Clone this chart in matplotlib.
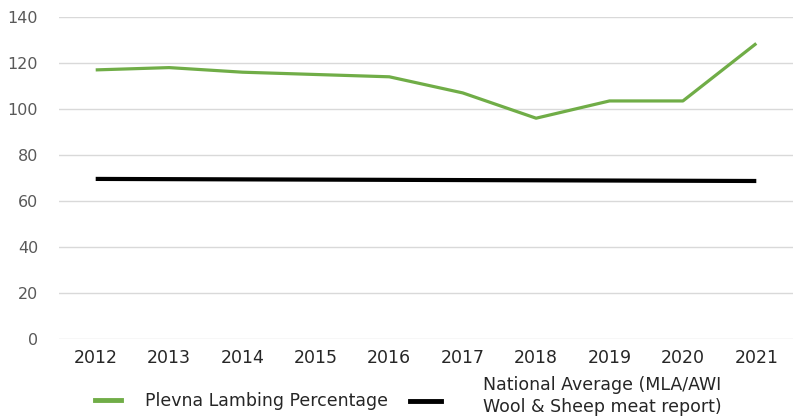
import matplotlib.pyplot as plt

years = ['2012', '2013', '2014', '2015', '2016', '2017', '2018', '2019', '2020', '2021']
plevna = [117, 118, 116, 115, 114, 107, 96, 103.5, 103.5, 128.5]
national = [69.6, 69.5, 69.4, 69.3, 69.2, 69.1, 69.0, 68.9, 68.8, 68.7]
yticks = [0, 20, 40, 60, 80, 100, 120, 140]

plt.rcParams['font.family'] = ['DejaVu Sans']

fig = plt.figure(figsize=(7.93, 4.17), dpi=100)
ax = fig.add_axes([59 / 793, 1 - 339 / 417, (793 - 59) / 793, (339 - 17) / 417])

x = list(range(len(years)))
ax.plot(x, plevna, color='#70ad47', lw=2.3, solid_capstyle='butt')
ax.plot(x, national, color='black', lw=3.0, solid_capstyle='butt')

ax.set_xlim(-0.5, len(years) - 0.5)
ax.set_ylim(0, 140)
ax.set_yticks(yticks)
ax.set_xticks(x)
ax.set_xticklabels(years, fontsize=12.5, color='#262626')
ax.tick_params(axis='y', labelsize=11.5, labelcolor='#595959', length=0, pad=15)
ax.tick_params(axis='x', length=0, pad=7)
ax.grid(axis='y', color='#d9d9d9', lw=1)
ax.set_axisbelow(True)
for s in ax.spines.values():
    s.set_visible(False)

# legend drawn as lines/text in figure coords
fig.add_artist(plt.Line2D([95 / 793, 121 / 793], [1 - 400 / 417] * 2, color='#70ad47', lw=3.5))
fig.text(145 / 793, 1 - 401 / 417, 'Plevna Lambing Percentage', fontsize=12.5, color='#262626', va='center')
fig.add_artist(plt.Line2D([410 / 793, 441 / 793], [1 - 401 / 417] * 2, color='black', lw=3.5))
fig.text(483 / 793, 1 - 396 / 417, 'National Average (MLA/AWI\nWool & Sheep meat report)', fontsize=12.5,
         color='#262626', va='center', linespacing=1.3)

fig.savefig('out.png', dpi=100)
